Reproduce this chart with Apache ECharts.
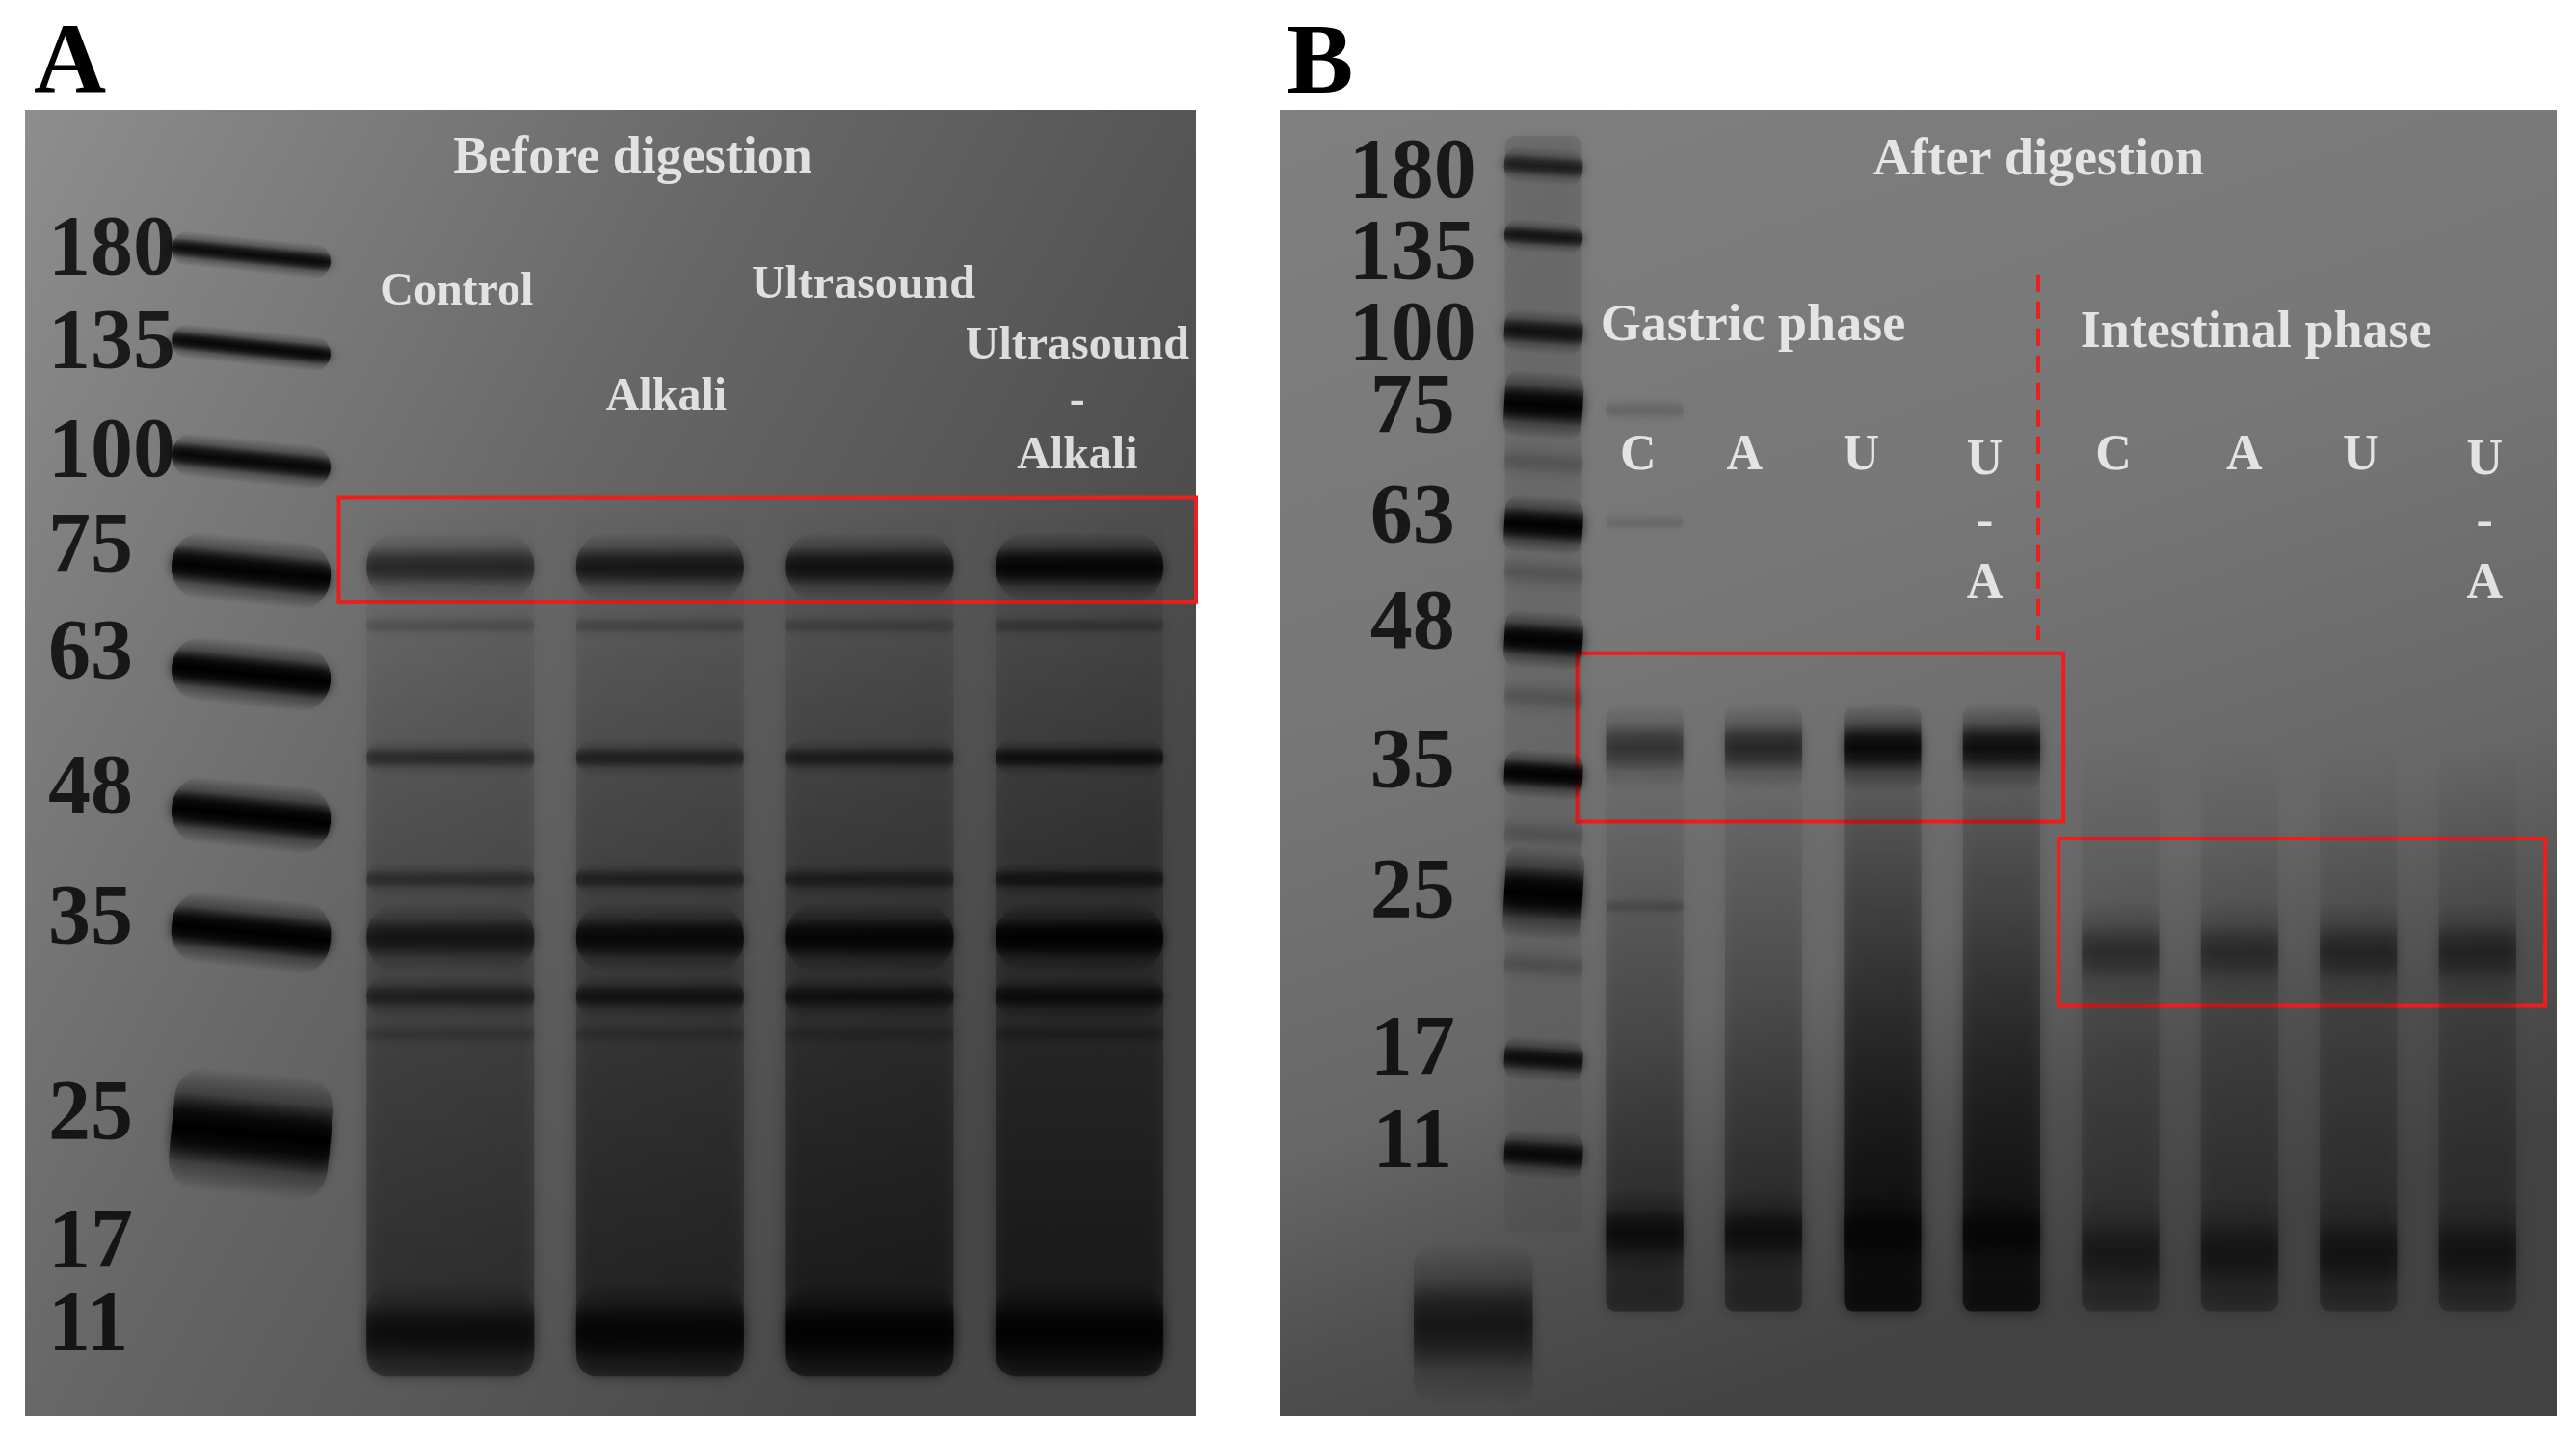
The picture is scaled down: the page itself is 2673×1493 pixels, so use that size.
<!DOCTYPE html>
<html>
<head>
<meta charset="utf-8">
<title>SDS-PAGE before and after digestion</title>
<script src="https://cdn.jsdelivr.net/npm/echarts@6/dist/echarts.min.js"></script>
<style>
html, body { margin: 0; padding: 0; background: #fff; }
#chart { width: 2673px; height: 1493px; }
</style>
</head>
<body>
<div id="chart"></div>
<script>
// migration = distance from top of gel, % of gel length. lane = lane index
var markerKd = ['180', '135', '100', '75', '63', '48', '35', '25', '17', '11'];

// ---- gel A (before digestion)
var markerLabelPosA = [10.9, 18.0, 26.4, 33.6, 41.8, 52.1, 62.1, 77.1, 86.9, 93.2];
var ladderPosA = [11.1, 18.2, 26.9, 35.3, 43.2, 54.0, 63.0, 78.4];
var ladderSpreadA = [1.5, 1.5, 1.9, 2.9, 2.8, 2.9, 3.1, 5.3];
var ladderDensA = [0.8, 0.85, 0.85, 0.95, 1, 1, 1, 1];

var lanesA = ['Control', 'Alkali', 'Ultrasound', 'Ultrasound\n-\nAlkali'];
var laneLabelPosA = [14.0, 22.0, 13.5, 22.3];

var bandPosA = [35.0, 39.5, 49.6, 58.9, 63.4, 67.9, 70.8, 93.6];
var bandSpreadA = [3.0, 1.2, 1.6, 1.5, 3.0, 1.9, 1.2, 4.4];
// rows = bands, columns = Control, Alkali, Ultrasound, Ultrasound-Alkali
var bandDensA = [
	[0.45, 0.60, 0.65, 0.85],
	[0.12, 0.14, 0.14, 0.18],
	[0.35, 0.42, 0.42, 0.60],
	[0.28, 0.36, 0.36, 0.46],
	[0.55, 0.75, 0.80, 0.90],
	[0.38, 0.50, 0.50, 0.55],
	[0.12, 0.12, 0.12, 0.16],
	[0.55, 0.70, 0.80, 0.80]
];
var smearTopA = [0, 0, 0, 0];
var smearBottomA = [0.35, 0.42, 0.48, 0.50];
var boxA = [0.468, 29.7, 4.57, 37.7];

// ---- gel B (after digestion)
var markerLabelPosB = [5.0, 11.2, 17.4, 23.0, 31.4, 39.5, 50.1, 60.1, 72.1, 79.2];
var ladderPosB = [4.3, 9.7, 17.0, 22.6, 31.8, 40.6, 50.9, 60.0, 72.7, 80.0];
var ladderSpreadB = [1.6, 1.4, 1.9, 2.9, 2.5, 2.5, 2.1, 4.0, 1.9, 2.1];
var ladderDensB = [0.55, 0.65, 0.7, 0.95, 0.95, 0.95, 0.95, 1.0, 0.75, 0.8];
var faintLadderPosB = [27.0, 35.5, 45.0, 55.5, 65.5];
var blobB = [[-0.44, 93.0, 7.0, 0.55]];

var lanesB = ['C', 'A', 'U', 'U\n-\nA', 'C', 'A', 'U', 'U\n-\nA'];
var laneLabelPosB = [26.5, 26.5, 26.5, 31.6, 26.5, 26.5, 26.5, 31.6];
var phaseLabels = ['Gastric phase', 'Intestinal phase'];
var phaseLabelPos = [16.6, 17.1];

var gastricPos = [23.0, 31.6, 48.8, 61.0, 86.0];
var gastricSpread = [1.4, 1.2, 3.8, 1.0, 3.8];
var gastricDens = [
	[0.10, 0.0, 0.0, 0.0],
	[0.08, 0.0, 0.0, 0.0],
	[0.38, 0.48, 0.80, 0.72],
	[0.12, 0.0, 0.0, 0.0],
	[0.55, 0.50, 0.50, 0.50]
];
var intestinalPos = [64.5, 87.5];
var intestinalSpread = [4.4, 5.0];
var intestinalDens = [
	[0.30, 0.30, 0.34, 0.34],
	[0.32, 0.36, 0.40, 0.40]
];
var smearTopB = [0, 0, 0.05, 0.04, 0, 0, 0, 0];
var smearBottomB = [0.36, 0.36, 0.70, 0.65, 0.24, 0.26, 0.26, 0.26];
var boxB1 = [0.433, 41.6, 4.52, 54.5];
var boxB2 = [4.48, 55.8, 8.57, 68.6];
var dividerB = [4.31, 12.6, 40.6];

var chart = echarts.init(document.getElementById('chart'));

var serif = 'Liberation Serif';
var LANE_W_A = 0.8, LANE_W_B = 0.65;
var LADDER_X_A = 0.05, LADDER_X_B = 0.15;

function black(a) {
	return 'rgba(0,0,0,' + a.toFixed(3) + ')';
}

// a soft band: dark core fading up and down, ends blurred by the shadow
function bandRenderer(laneWidth, tilt) {
	return function (params, api) {
		var c = api.coord([api.value(0), api.value(1)]);
		var w = api.size([laneWidth, 0])[0];
		var h = api.size([0, api.value(2)])[1] * 1.8;
		var d = api.value(3);
		return {
			type: 'rect',
			x: c[0],
			y: c[1],
			rotation: tilt || 0,
			shape: {x: -w / 2, y: -h / 2, width: w, height: h, r: Math.min(h / 2, w / 5)},
			style: {
				fill: new echarts.graphic.LinearGradient(0, 0, 0, 1, [
					{offset: 0, color: black(0)},
					{offset: 0.22, color: black(d * 0.25)},
					{offset: 0.38, color: black(d * 0.8)},
					{offset: 0.5, color: black(d)},
					{offset: 0.62, color: black(d * 0.8)},
					{offset: 0.78, color: black(d * 0.25)},
					{offset: 1, color: black(0)}
				]),
				shadowBlur: 12,
				shadowColor: 'rgba(0,0,0,0.7)'
			}
		};
	};
}

function smearRenderer(laneWidth) {
	return function (params, api) {
		var top = api.coord([api.value(0), api.value(1)]);
		var bot = api.coord([api.value(0), api.value(2)]);
		var w = api.size([laneWidth, 0])[0];
		return {
			type: 'rect',
			shape: {x: top[0] - w / 2, y: top[1], width: w, height: bot[1] - top[1], r: w / 8},
			style: {
				fill: new echarts.graphic.LinearGradient(0, 0, 0, 1, [
					{offset: 0, color: black(api.value(3))},
					{offset: 1, color: black(api.value(4))}
				]),
				shadowBlur: 16,
				shadowColor: 'rgba(0,0,0,0.8)'
			}
		};
	};
}

function laneBands(pos, spread, dens, firstLane) {
	var out = [];
	for (var i = 0; i < pos.length; i++) {
		for (var j = 0; j < dens[i].length; j++) {
			if (dens[i][j] > 0) out.push([firstLane + j, pos[i], spread[i], dens[i][j]]);
		}
	}
	return out;
}

function ladder(x, pos, spread, dens) {
	var out = [];
	for (var i = 0; i < pos.length; i++) {
		out.push([x, pos[i], spread[i], dens[i]]);
	}
	return out;
}

function smears(top, bottom, from, to, firstLane) {
	var out = [];
	for (var i = 0; i < top.length; i++) {
		out.push([firstLane + i, from, to, top[i], bottom[i]]);
	}
	return out;
}

function textPoints(xs, ys, names) {
	var out = [];
	for (var i = 0; i < names.length; i++) {
		out.push({name: names[i], value: [xs[i], ys[i]]});
	}
	return out;
}

function fill(v, n) {
	var a = [];
	for (var i = 0; i < n; i++) a.push(v);
	return a;
}

function boxArea(b) {
	return [{xAxis: b[0], yAxis: b[1]}, {xAxis: b[2], yAxis: b[3]}];
}

var whiteLabel = {
	show: true,
	position: 'inside',
	formatter: '{b}',
	color: '#ffffff',
	fontFamily: serif,
	fontWeight: 'bold',
	fontSize: 48,
	lineHeight: 57
};

var redBoxStyle = {color: 'rgba(0,0,0,0)', borderColor: '#f21c1c', borderWidth: 4};

var option = {
	backgroundColor: '#ffffff',
	animation: false,
	title: [
		{text: 'A', left: 30, top: 12, textStyle: {fontFamily: serif, fontWeight: 'bold', fontSize: 104, color: '#000'}},
		{text: 'B', left: 1330, top: 12, textStyle: {fontFamily: serif, fontWeight: 'bold', fontSize: 104, color: '#000'}}
	],
	grid: [
		{
			left: 26, top: 114, width: 1215, height: 1355, show: true, borderWidth: 0,
			backgroundColor: new echarts.graphic.LinearGradient(0, 0, 1, 0.5, [
				{offset: 0, color: '#8e8e8e'},
				{offset: 0.2, color: '#7e7e7e'},
				{offset: 0.5, color: '#666666'},
				{offset: 1, color: '#474747'}
			])
		},
		{
			left: 1328, top: 114, width: 1325, height: 1355, show: true, borderWidth: 0,
			backgroundColor: new echarts.graphic.LinearGradient(0, 0, 0.35, 1, [
				{offset: 0, color: '#808080'},
				{offset: 0.45, color: '#767676'},
				{offset: 0.72, color: '#676767'},
				{offset: 0.86, color: '#505050'},
				{offset: 1, color: '#424242'}
			])
		}
	],
	xAxis: [
		{gridIndex: 0, type: 'value', min: -1.028, max: 4.556, show: false},
		{gridIndex: 1, type: 'value', min: -2.066, max: 8.666, show: false}
	],
	yAxis: [
		{gridIndex: 0, type: 'value', min: 0, max: 100, inverse: true, show: false},
		{gridIndex: 1, type: 'value', min: 0, max: 100, inverse: true, show: false}
	],
	series: [
		// ---- gel A
		{
			type: 'custom', name: 'smear A', xAxisIndex: 0, yAxisIndex: 0, clip: true,
			renderItem: smearRenderer(LANE_W_A),
			data: smears(smearTopA, smearBottomA, 30, 97, 1),
			z: 1
		},
		{
			type: 'custom', name: 'ladder A', xAxisIndex: 0, yAxisIndex: 0, clip: true,
			renderItem: bandRenderer(0.76, -0.1),
			data: ladder(LADDER_X_A, ladderPosA, ladderSpreadA, ladderDensA),
			z: 2
		},
		{
			type: 'custom', name: 'bands A', xAxisIndex: 0, yAxisIndex: 0, clip: true,
			renderItem: bandRenderer(LANE_W_A, 0),
			data: laneBands(bandPosA, bandSpreadA, bandDensA, 1),
			z: 2
		},
		{
			type: 'scatter', name: 'marker A', xAxisIndex: 0, yAxisIndex: 0,
			symbolSize: 1, itemStyle: {color: 'rgba(0,0,0,0)'},
			label: {show: true, position: 'right', distance: 0, formatter: '{b}', color: '#000',
				fontFamily: serif, fontWeight: 'bold', fontSize: 88},
			data: textPoints(fill(-0.92, markerKd.length), markerLabelPosA, markerKd),
			z: 5
		},
		{
			type: 'scatter', name: 'lanes A', xAxisIndex: 0, yAxisIndex: 0, clip: false,
			symbolSize: 1, itemStyle: {color: 'rgba(0,0,0,0)'},
			label: whiteLabel,
			data: textPoints([1.87, 1.03, 2.03, 2.97, 3.99], [3.8].concat(laneLabelPosA),
				['Before digestion'].concat(lanesA)).map(function (d, i) {
				if (i === 0) d.label = {fontSize: 54};
				return d;
			}),
			markArea: {silent: true, itemStyle: redBoxStyle, data: [boxArea(boxA)]},
			z: 6
		},
		// ---- gel B
		{
			type: 'custom', name: 'smear B', xAxisIndex: 1, yAxisIndex: 1, clip: true,
			renderItem: smearRenderer(LANE_W_B),
			data: smears(smearTopB, smearBottomB, 48, 92, 1).concat([[LADDER_X_B, 2, 86, 0.1, 0.04]]),
			z: 1
		},
		{
			type: 'custom', name: 'ladder B', xAxisIndex: 1, yAxisIndex: 1, clip: true,
			renderItem: bandRenderer(0.66, -0.06),
			data: ladder(LADDER_X_B, ladderPosB, ladderSpreadB, ladderDensB)
				.concat(ladder(LADDER_X_B, faintLadderPosB, fill(1.8, faintLadderPosB.length), fill(0.12, faintLadderPosB.length))),
			z: 2
		},
		{
			type: 'custom', name: 'blob B', xAxisIndex: 1, yAxisIndex: 1, clip: true,
			renderItem: bandRenderer(1.0, 0),
			data: blobB,
			z: 2
		},
		{
			type: 'custom', name: 'bands B', xAxisIndex: 1, yAxisIndex: 1, clip: true,
			renderItem: bandRenderer(LANE_W_B, 0),
			data: laneBands(gastricPos, gastricSpread, gastricDens, 1)
				.concat(laneBands(intestinalPos, intestinalSpread, intestinalDens, 5)),
			z: 2
		},
		{
			type: 'scatter', name: 'marker B', xAxisIndex: 1, yAxisIndex: 1,
			symbolSize: 1, itemStyle: {color: 'rgba(0,0,0,0)'},
			label: {show: true, position: 'inside', formatter: '{b}', color: '#000',
				fontFamily: serif, fontWeight: 'bold', fontSize: 88},
			data: textPoints(fill(-0.95, markerKd.length), markerLabelPosB, markerKd),
			z: 5
		},
		{
			type: 'scatter', name: 'lanes B', xAxisIndex: 1, yAxisIndex: 1, clip: false,
			symbolSize: 1, itemStyle: {color: 'rgba(0,0,0,0)'},
			label: Object.assign({}, whiteLabel, {fontSize: 52, lineHeight: 64}),
			data: textPoints([4.31, 1.91, 6.14, 0.945, 1.84, 2.82, 3.86, 4.94, 6.04, 7.02, 8.06],
				[3.9].concat(phaseLabelPos, laneLabelPosB),
				['After digestion'].concat(phaseLabels, lanesB)).map(function (d, i) {
				if (i < 3) d.label = {fontSize: 54};
				return d;
			}),
			markArea: {silent: true, itemStyle: redBoxStyle, data: [boxArea(boxB1), boxArea(boxB2)]},
			markLine: {
				silent: true, symbol: ['none', 'none'], label: {show: false},
				lineStyle: {color: '#e8201f', width: 4, type: [18, 10]},
				data: [[{coord: [dividerB[0], dividerB[1]]}, {coord: [dividerB[0], dividerB[2]]}]]
			},
			z: 6
		}
	]
};

chart.setOption(option);
</script>
</body>
</html>
